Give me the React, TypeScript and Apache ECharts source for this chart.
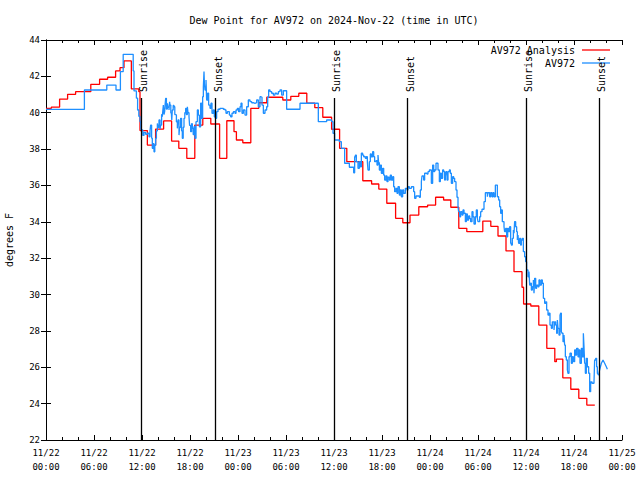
import React, { useEffect, useRef } from "react";
import * as echarts from "echarts";

// hours since 2024-11-22 00:00 UTC, dew point in degrees F
const analysisData: [number, number][] = [
  [0, 40.24], [0.67, 40.31], [1.7, 40.75], [2.7, 41.01], [3.7, 41.16], [5.6, 41.56],
  [6.7, 41.84], [7.7, 41.95], [8.7, 42.3], [9.25, 42.48], [9.75, 42.85], [10.67, 41.31],
  [11.6, 41.16], [11.75, 39.02], [12.67, 38.22], [13.7, 39.1], [14.7, 39.55], [15.7, 38.44],
  [16.6, 38.04], [17.6, 37.49], [18.6, 39.32], [19.6, 39.69], [20.6, 39.38], [21.7, 37.49],
  [22.6, 39.56], [23.5, 38.96], [23.8, 38.5], [24.6, 38.35], [25.6, 40.24], [26.6, 40.55],
  [27.6, 40.85], [29.6, 40.7], [30.6, 40.9], [31.6, 41.07], [32.6, 40.52], [33.6, 40.28],
  [34.6, 39.75], [35.7, 39.09], [36.7, 38.04], [37.6, 37.31], [39.6, 36.26], [40.7, 36.08],
  [41.6, 35.8], [42.6, 35.02], [43.7, 34.19], [44.6, 33.95], [45.5, 34.37], [46.6, 34.83],
  [47.7, 34.92], [48.7, 35.35], [49.7, 35.2], [50.6, 34.8], [51.6, 33.64], [52.6, 33.46],
  [54.6, 34.04], [55.6, 33.75], [56.5, 33.22], [57.5, 32.4], [58.5, 31.26], [59.5, 30.4],
  [59.7, 29.48], [60.6, 29.37], [61.6, 28.32], [62.6, 27.04], [63.6, 26.31], [63.8, 26.45],
  [64.6, 25.42], [65.6, 24.79], [66.6, 24.29], [67.6, 23.92], [68.6, 23.92],
];

const obsData: [number, number][] = [
  [0, 40.18], [4.8, 41.25], [7.6, 41.52], [8.75, 41.25], [9.3, 42.26], [9.65, 43.21],
  [10.9, 42.3], [11.0, 41.2], [11.3, 40.8], [11.45, 40.15], [11.6, 39.8], [11.75, 39.5],
  [11.85, 39.1], [11.92, 39.05], [12.1, 38.75], [12.25, 38.92], [12.46, 38.81], [12.67, 38.87],
  [12.875, 38.68], [13.0, 39.0], [13.08, 39.32], [13.2, 38.6], [13.29, 38.04], [13.4, 38.3],
  [13.5, 37.85], [13.6, 38.2], [13.71, 38.59], [13.8, 39.0], [13.92, 39.41], [14.0, 39.2],
  [14.125, 39.6], [14.25, 39.1], [14.33, 39.32], [14.45, 39.9], [14.54, 39.78], [14.6, 40.1],
  [14.67, 40.42], [14.75, 39.9], [14.83, 40.06], [14.9, 40.5], [14.96, 40.79], [15.05, 40.2],
  [15.17, 40.52], [15.25, 40.3], [15.375, 40.15], [15.45, 40.6], [15.5, 40.42], [15.6, 40.0],
  [15.67, 39.97], [15.72, 39.6], [15.79, 40.15], [15.9, 40.4], [16.0, 40.33], [16.1, 39.9],
  [16.21, 39.87], [16.3, 39.5], [16.42, 39.14], [16.5, 39.6], [16.625, 38.77], [16.7, 39.2],
  [16.83, 39.69], [16.95, 39.0], [17.04, 38.59], [17.15, 39.2], [17.25, 39.69], [17.35, 40.0],
  [17.46, 40.24], [17.55, 39.9], [17.67, 40.33], [17.75, 40.0], [17.875, 39.78], [17.95, 39.3],
  [18.08, 38.96], [18.2, 39.4], [18.29, 39.14], [18.4, 38.8], [18.5, 39.23], [18.625, 38.59],
  [18.75, 39.51], [18.92, 40.15], [19.04, 39.87], [19.17, 39.23], [19.33, 40.52], [19.46, 39.69],
  [19.58, 40.88], [19.67, 41.43], [19.75, 42.26], [19.8, 41.6], [19.875, 41.25], [20.0, 41.8],
  [20.08, 40.7], [20.21, 41.07], [20.33, 40.42], [20.5, 40.24], [20.625, 40.52], [20.75, 39.97],
  [20.92, 40.15], [21.04, 39.78], [21.17, 39.69], [21.33, 40.06], [21.5, 40.19], [21.75, 40.24],
  [22.17, 40.19], [22.375, 40.15], [22.5, 39.97], [22.67, 40.06], [22.92, 39.87], [23.08, 39.78],
  [23.25, 39.97], [23.42, 40.06], [23.625, 39.97], [23.75, 40.15], [23.92, 40.24], [24.08, 40.06],
  [24.25, 40.33], [24.375, 40.52], [24.5, 39.97], [24.67, 40.15], [24.875, 39.87], [25.08, 40.33],
  [25.29, 40.7], [25.5, 40.61], [25.71, 40.55], [25.92, 40.52], [26.125, 40.55], [26.33, 40.7],
  [26.54, 40.33], [26.75, 40.88], [26.875, 40.85], [27.0, 40.42], [27.17, 39.97], [27.375, 40.15],
  [27.58, 40.33], [27.71, 40.85], [27.83, 41.25], [28.0, 41.16], [28.21, 41.07], [28.42, 40.97],
  [28.625, 41.07], [28.83, 41.03], [29.04, 41.16], [29.25, 41.25], [29.46, 40.97], [29.67, 41.21],
  [30.08, 40.19], [31.75, 40.52], [34.04, 39.51], [35.08, 39.6], [35.71, 39.51], [35.875, 38.87],
  [36.08, 38.5], [36.67, 38.41], [36.92, 38.04], [37.33, 37.22], [37.92, 37.0], [38.46, 36.7],
  [38.58, 37.58], [38.67, 37.67], [38.79, 37.31], [39.0, 36.94], [39.17, 37.31], [39.29, 37.03],
  [39.42, 37.77], [39.58, 37.67], [39.71, 37.58], [39.92, 37.49], [40.04, 37.58], [40.17, 37.31],
  [40.25, 36.85], [40.42, 37.31], [40.54, 37.73], [40.67, 37.58], [40.83, 37.86], [40.96, 37.58],
  [41.08, 37.31], [41.25, 37.36], [41.375, 37.12], [41.5, 37.67], [41.58, 37.25], [41.67, 36.85],
  [41.79, 37.12], [41.92, 36.67], [42.08, 36.94], [42.21, 36.57], [42.33, 36.3], [42.5, 36.52],
  [42.625, 36.21], [42.75, 36.45], [42.92, 36.3], [43.04, 36.57], [43.17, 36.3], [43.33, 36.48],
  [43.46, 35.93], [43.58, 35.66], [43.75, 35.84], [43.875, 35.57], [44.0, 35.93], [44.17, 35.47],
  [44.29, 35.75], [44.42, 35.38], [44.58, 35.75], [44.71, 35.57], [44.92, 35.84], [45.125, 35.75],
  [45.25, 35.93], [45.42, 35.84], [45.67, 35.93], [45.96, 35.66], [46.08, 35.29], [46.25, 35.42],
  [46.67, 35.35], [46.79, 35.75], [46.92, 36.21], [47.0, 36.52], [47.21, 36.3], [47.33, 36.67],
  [47.625, 36.63], [47.75, 36.76], [47.92, 36.85], [48.17, 36.12], [48.33, 37.12], [48.46, 36.76],
  [48.58, 36.85], [48.75, 37.22], [49.0, 36.85], [49.17, 36.21], [49.29, 36.67], [49.42, 36.39],
  [49.58, 36.85], [49.71, 36.76], [49.83, 36.3], [49.92, 36.48], [50.0, 36.76], [50.125, 36.3],
  [50.25, 36.76], [50.42, 36.85], [50.54, 36.67], [50.67, 36.12], [50.83, 36.48], [50.96, 36.39],
  [51.08, 36.21], [51.25, 35.75], [51.375, 35.35], [51.5, 34.83], [51.58, 34.56], [51.71, 34.28],
  [51.83, 34.56], [52.0, 34.37], [52.125, 34.65], [52.25, 34.47], [52.42, 34.01], [52.54, 34.43],
  [52.67, 34.1], [52.83, 34.32], [52.96, 34.19], [53.08, 34.01], [53.25, 34.56], [53.375, 34.28],
  [53.5, 33.88], [53.67, 34.28], [53.79, 34.65], [53.92, 34.19], [54.0, 34.01], [54.21, 34.28],
  [54.33, 34.56], [54.5, 34.69], [54.75, 35.11], [54.92, 35.6], [55.17, 35.38], [55.25, 35.6],
  [55.46, 35.38], [55.58, 35.6], [55.75, 35.38], [55.875, 35.6], [56.0, 35.38], [56.17, 36.02],
  [56.42, 35.38], [56.58, 35.2], [56.71, 34.83], [56.83, 34.47], [56.92, 34.65], [57.04, 34.01],
  [57.25, 33.73], [57.33, 33.46], [57.46, 33.64], [57.58, 33.18], [57.71, 33.64], [57.83, 33.46],
  [57.96, 33.73], [58.08, 32.82], [58.17, 32.72], [58.29, 33.09], [58.42, 33.55], [58.5, 33.37],
  [58.58, 34.01], [58.71, 33.73], [58.83, 33.46], [58.92, 33.0], [59.0, 33.27], [59.08, 32.82],
  [59.21, 33.09], [59.33, 32.72], [59.42, 33.0], [59.54, 33.09], [59.67, 32.36], [59.83, 32.08],
  [59.96, 31.81], [60.08, 31.35], [60.25, 30.98], [60.375, 31.26], [60.46, 30.52], [60.58, 30.62],
  [60.67, 30.25], [60.79, 30.43], [60.92, 30.8], [61.0, 30.07], [61.08, 30.89], [61.21, 30.34],
  [61.33, 30.52], [61.5, 30.43], [61.625, 30.8], [61.75, 30.52], [61.92, 30.8], [62.04, 30.62],
  [62.17, 29.79], [62.33, 29.52], [62.46, 29.6], [62.58, 29.15], [62.75, 28.87], [62.875, 28.97],
  [63.0, 28.32], [63.17, 28.14], [63.29, 28.5], [63.5, 28.05], [63.58, 28.5], [63.71, 28.32],
  [63.83, 27.87], [63.92, 28.6], [64.0, 28.14], [64.125, 27.77], [64.25, 28.87], [64.33, 28.97],
  [64.42, 27.96], [64.5, 27.87], [64.625, 27.41], [64.75, 27.77], [64.83, 27.22], [64.92, 26.58],
  [65.04, 26.4], [65.17, 25.85], [65.25, 25.67], [65.375, 26.58], [65.5, 26.77], [65.67, 26.22],
  [65.79, 26.58], [65.92, 26.31], [66.08, 26.95], [66.21, 26.67], [66.33, 27.04], [66.5, 26.58],
  [66.625, 26.95], [66.75, 26.22], [66.92, 27.04], [67.04, 26.58], [67.17, 27.87], [67.25, 27.13],
  [67.33, 26.22], [67.42, 25.67], [67.54, 26.49], [67.67, 26.03], [67.83, 25.67], [67.96, 24.66],
  [68.08, 25.2], [68.25, 25.12], [68.5, 25.2], [68.58, 26.4], [68.71, 26.49], [68.83, 26.03],
  [68.92, 25.67], [69.0, 25.6],
];

const obsTail: [number, number][] = [
  [69.0, 25.6], [69.08, 25.57], [69.2, 25.85], [69.42, 26.22], [69.625, 26.4],
  [69.83, 26.22], [70.04, 26.03], [70.17, 25.89],
];

const sunEvents = [
  { h: 11.93, label: "Sunrise" },
  { h: 21.19, label: "Sunset" },
  { h: 36.0, label: "Sunrise" },
  { h: 45.2, label: "Sunset" },
  { h: 59.98, label: "Sunrise" },
  { h: 69.1, label: "Sunset" },
];
const sunLineTop = 40.81;
const sunLabelBase = 41.14;

const seriesNames = ["AV972 Analysis", "AV972"];
const seriesColors = ["#ff0000", "#1e8fff"];
const titleText = "Dew Point for AV972 on 2024-Nov-22 (time in UTC)";
const yName = "degrees F";
const X_MIN = 0, X_MAX = 72, X_STEP = 6;
const Y_MIN = 22, Y_MAX = 44, Y_STEP = 2;

const FONT = "DejaVu Sans Mono";

function xLabel(h: number): string {
  const day = 22 + Math.floor(h / 24);
  const hr = h % 24;
  return `11/${day}\n${String(hr).padStart(2, "0")}:00`;
}

export default function App() {
  const ref = useRef<HTMLDivElement>(null);
  useEffect(() => {
    const chart = echarts.init(ref.current!, null, { renderer: "svg" });
    const L = 46, R = 18, T = 40, B = 40;
    const axisCommon = {
      type: "value" as const,
      axisLine: { show: true, lineStyle: { color: "#000", width: 1 } },
      splitLine: { show: false },
    };
    chart.setOption({
      animation: false,
      backgroundColor: "#fff",
      grid: { left: L, right: R, top: T, bottom: B, containLabel: false, outerBoundsMode: "none" },
      xAxis: [
        {
          ...axisCommon,
          position: "bottom",
          min: X_MIN, max: X_MAX, interval: X_STEP,
          axisTick: { show: true, inside: true, length: 5, lineStyle: { color: "#000" } },
          minorTick: { show: true, splitNumber: 3, length: 3, lineStyle: { color: "#000" } },
          axisLabel: {
            formatter: (v: number) => xLabel(v),
            fontFamily: FONT, fontSize: 9, color: "#000", lineHeight: 14, margin: 6,
          },
        },
        {
          ...axisCommon,
          position: "top",
          min: X_MIN, max: X_MAX, interval: X_STEP,
          axisTick: { show: true, inside: true, length: 5, lineStyle: { color: "#000" } },
          minorTick: { show: true, splitNumber: 3, length: 3, lineStyle: { color: "#000" } },
          axisLabel: { show: false },
        },
      ],
      yAxis: [
        {
          ...axisCommon,
          position: "left",
          min: Y_MIN, max: Y_MAX, interval: Y_STEP,
          axisTick: { show: true, inside: true, length: 5, lineStyle: { color: "#000" } },
          axisLabel: { fontFamily: FONT, fontSize: 9, color: "#000", margin: 6 },
          name: yName,
          nameLocation: "middle",
          nameRotate: 90,
          nameGap: 32,
          nameTextStyle: { fontFamily: FONT, fontSize: 10, color: "#000" },
        },
        {
          ...axisCommon,
          position: "right",
          min: Y_MIN, max: Y_MAX, interval: Y_STEP,
          axisTick: { show: true, inside: true, length: 5, lineStyle: { color: "#000" } },
          axisLabel: { show: false },
        },
      ],
      series: [
        {
          name: seriesNames[0],
          type: "line",
          step: "end",
          data: analysisData,
          showSymbol: false,
          symbol: "none",
          lineStyle: { color: seriesColors[0], width: 1.3 },
          z: 2,
          markLine: {
            silent: true,
            symbol: ["none", "none"],
            label: { show: false },
            lineStyle: { color: "#000", width: 1.3, type: "solid" },
            data: sunEvents.map((e) => [
              { coord: [e.h, Y_MIN] },
              { coord: [e.h, sunLineTop] },
            ]),
          },
        },
        {
          name: seriesNames[1],
          type: "line",
          step: "end",
          data: obsData,
          showSymbol: false,
          symbol: "none",
          lineStyle: { color: seriesColors[1], width: 1.3 },
          z: 3,
        },
        {
          name: seriesNames[1] + " ",
          type: "line",
          data: obsTail,
          showSymbol: false,
          symbol: "none",
          lineStyle: { color: seriesColors[1], width: 1.3 },
          z: 3,
        },
      ],
    });

    const W = 640;
    const plotCenter = L + (W - L - R) / 2;
    const graphics: any[] = [
      {
        type: "text", id: "title", x: plotCenter, y: 20,
        style: { text: titleText, font: `10px "${FONT}"`, fill: "#000", align: "center", verticalAlign: "middle" },
      },
    ];
    const legendRight = W - R - 47;
    seriesNames.forEach((n, i) => {
      const y = 50 + i * 13;
      graphics.push({
        type: "text", id: "lt" + i, x: legendRight, y,
        style: { text: n, font: `10px "${FONT}"`, fill: "#000", align: "right", verticalAlign: "middle" },
      });
      graphics.push({
        type: "line", id: "ll" + i,
        shape: { x1: legendRight + 7, y1: y, x2: legendRight + 35, y2: y },
        style: { stroke: seriesColors[i], lineWidth: 1.3 },
      });
    });
    sunEvents.forEach((e, i) => {
      const p = chart.convertToPixel({ xAxisIndex: 0, yAxisIndex: 0 }, [e.h, sunLabelBase]) as number[];
      graphics.push({
        type: "text", id: "sun" + i, x: p[0] + 2.5, y: p[1], rotation: Math.PI / 2,
        style: { text: e.label, font: `10px "${FONT}"`, fill: "#000", align: "left", verticalAlign: "middle" },
        z: 10,
      });
    });
    chart.setOption({ graphic: graphics });
    return () => chart.dispose();
  }, []);
  return (
    <div
      ref={ref}
      style={{ position: "fixed", left: 0, top: 0, width: 640, height: 480 }}
    />
  );
}
